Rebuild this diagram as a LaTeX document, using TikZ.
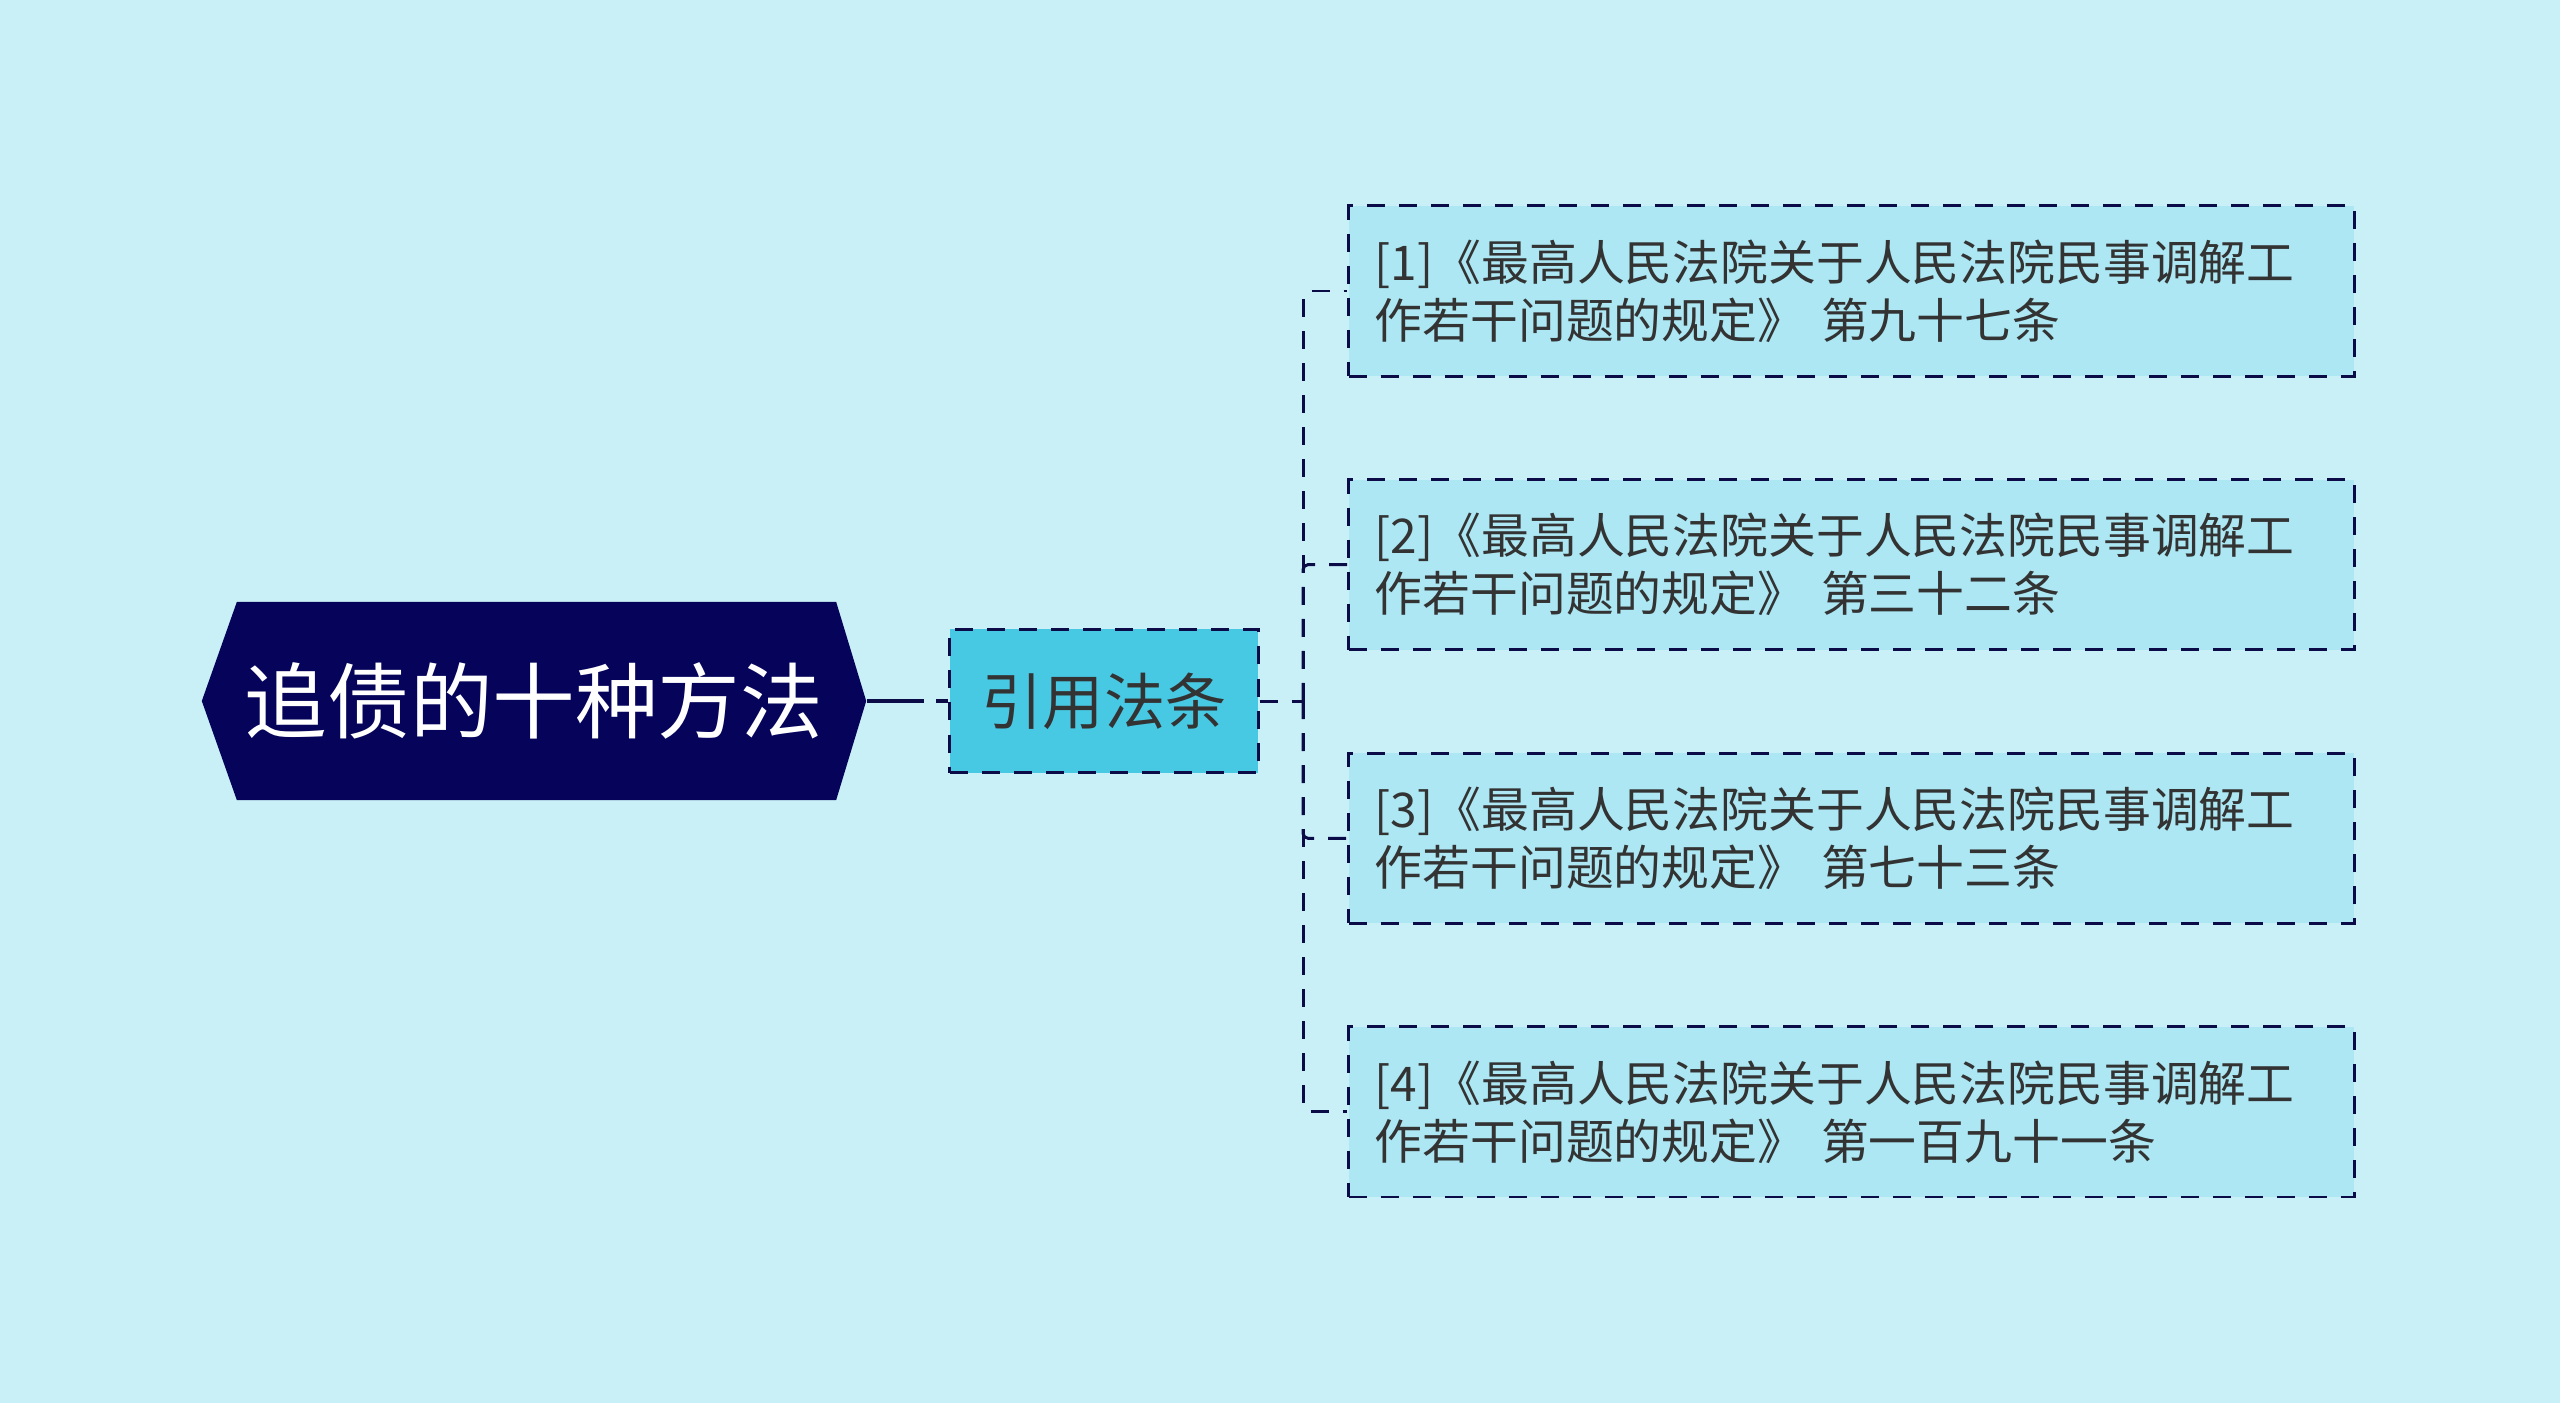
\documentclass[tikz,border=0pt]{standalone}
\usepackage{fontspec}
\setmainfont{Noto Sans CJK SC}
\usepackage{tikz}
\usetikzlibrary{
  positioning,
  calc
}
\definecolor{bgcolor}{HTML}{C9F0F7}
\definecolor{rootfill}{HTML}{05045A}
\definecolor{lawfill}{HTML}{48C9E3}
\definecolor{leaffill}{HTML}{ACE7F3}
\definecolor{linecolor}{HTML}{0B0B48}
\definecolor{textgray}{HTML}{333333}
\tikzstyle{rootbox}=[minimum width=6.64cm, minimum height=1.98cm, inner sep=0pt, text=white, font=\fontsize{23.5}{28}\selectfont]
\tikzstyle{lawbox}=[draw=linecolor, fill=lawfill, line width=0.85pt, dash pattern=on 0.18cm off 0.14cm, minimum width=3.08cm, minimum height=1.43cm, inner sep=0pt, text=textgray, font=\fontsize{17.4}{21}\selectfont]
\tikzstyle{leafbox}=[draw=linecolor, fill=leaffill, line width=0.85pt, dash pattern=on 0.18cm off 0.14cm, minimum width=10.05cm, minimum height=1.70cm, text width=9.53cm, align=left, inner xsep=0.26cm, text=textgray, font=\fontsize{13.6}{16.5}\selectfont]
\tikzstyle{branch}=[draw=linecolor, line width=0.85pt, dash pattern=on 0.18cm off 0.14cm, rounded corners=0.05cm]
\tikzstyle{rootline}=[draw=linecolor, line width=1.3pt, dash pattern=on 0.57cm off 0.12cm on 0.2cm off 0.12cm]

\begin{document}
\begin{tikzpicture}[x=0.01cm, y=-0.01cm]
    % 背景
    \fill[bgcolor] (0,0) rectangle (2560,1403);

    % 中心主题(六角形)
    \node[rootbox, path picture={
        \fill[rootfill] (path picture bounding box.west)
          -- ($(path picture bounding box.north west)+(0.35cm,0)$)
          -- ($(path picture bounding box.north east)+(-0.3cm,0)$)
          -- (path picture bounding box.east)
          -- ($(path picture bounding box.south east)+(-0.3cm,0)$)
          -- ($(path picture bounding box.south west)+(0.35cm,0)$)
          -- cycle;
      }] (root) at (534,701) {追债的十种方法};

    % 分支主题
    \node[lawbox] (law) at (1104,701) {引用法条};

    % 条文
    \node[leafbox] (leaf1) at (1851.5,291) {[1]《最高人民法院关于人民法院民事调解工\\作若干问题的规定》 第九十七条};
    \node[leafbox, below=1.005cm of leaf1] (leaf2) {[2]《最高人民法院关于人民法院民事调解工\\作若干问题的规定》 第三十二条};
    \node[leafbox, below=1.005cm of leaf2] (leaf3) {[3]《最高人民法院关于人民法院民事调解工\\作若干问题的规定》 第七十三条};
    \node[leafbox, below=1.005cm of leaf3] (leaf4) {[4]《最高人民法院关于人民法院民事调解工\\作若干问题的规定》 第一百九十一条};

    % 连接线
    \draw[rootline] (root.east) -- (law.west);
    \coordinate (fork) at (1303,701);
    \draw[branch] (law.east) -- (fork);
    \foreach \i in {1,...,4}
      \draw[branch] (fork) |- (leaf\i.west);
\end{tikzpicture}
\end{document}
